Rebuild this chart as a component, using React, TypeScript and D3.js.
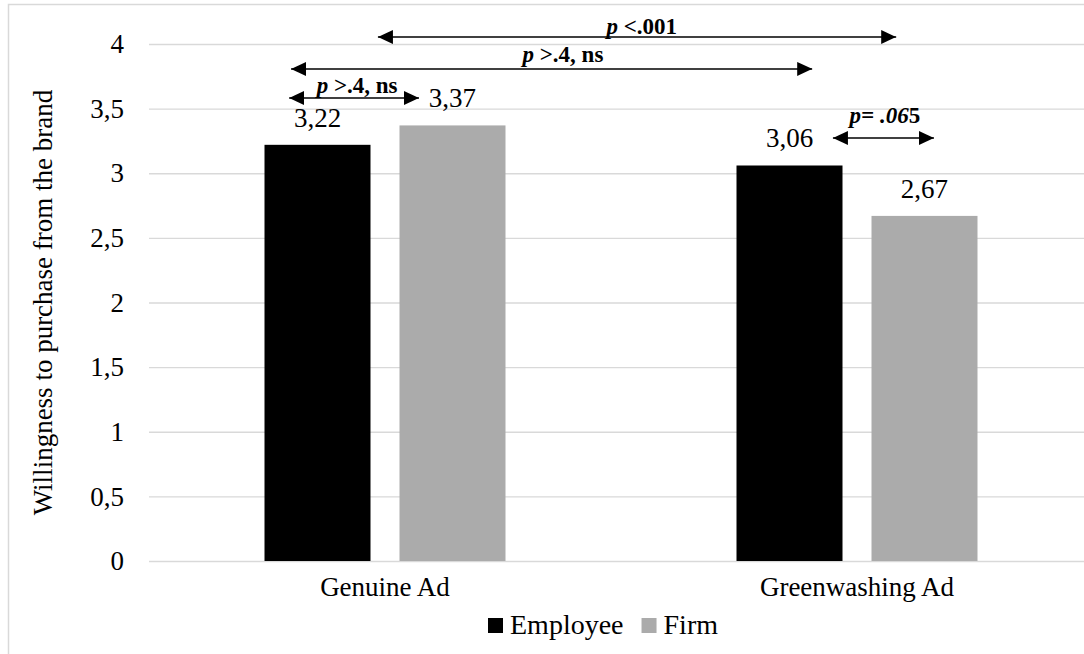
import React, { useRef, useEffect } from "react";
import * as d3 from "d3";

const categories = ["Genuine Ad", "Greenwashing Ad"];
const seriesNames = ["Employee", "Firm"];
const employeeValues = [3.22, 3.06];
const firmValues = [3.37, 2.67];
const seriesColors = ["#000000", "#ababab"];
const yTickValues = [0, 0.5, 1, 1.5, 2, 2.5, 3, 3.5, 4];
const yAxisTitle = "Willingness to purchase from the brand";

// significance arrows: x in category units (0 = left edge of plot), y in axis units
const annItalic = ["p", "p", "p", "p= .06"];
const annPlain = [" <.001", " >.4, ns", " >.4, ns", "5"];
const annFrom = [0.485, 0.301, 0.297, 1.449];
const annTo = [1.583, 1.405, 0.572, 1.663];
const annLevel = [4.054, 3.807, 3.582, 3.273];
const annTextLevel = [4.077, 3.861, 3.621, 3.389];
const annTextAt = [1.044, 0.877, 0.441, 1.559];

const width = 1084;
const height = 654;
const plot = { left: 149, right: 1093, top: 44, bottom: 561 };
const font = "Liberation Serif, Tinos, DejaVu Serif, Times New Roman, serif";

const commaFormat = d3.formatLocale({
  decimal: ",",
  thousands: ".",
  grouping: [3],
  currency: ["", ""],
});

const App = () => {
  const svgRef = useRef<SVGSVGElement>(null);

  useEffect(() => {
    const svg = d3.select(svgRef.current);
    svg.selectAll("*").remove();

    const y = d3.scaleLinear().domain([0, 4]).range([plot.bottom, plot.top]);
    const x0 = d3.scaleBand().domain(categories).range([plot.left, plot.right]);
    const groupWidth = 241;
    const x1 = d3
      .scaleBand()
      .domain(seriesNames)
      .range([0, groupWidth])
      .paddingInner(0.2148);
    const xPos = d3.scaleLinear().domain([0, 2]).range([plot.left, plot.right]);

    // outer frame
    svg
      .append("rect")
      .attr("x", 8.5)
      .attr("y", 4.5)
      .attr("width", 1200)
      .attr("height", 800)
      .attr("fill", "none")
      .attr("stroke", "#d9d9d9")
      .attr("stroke-width", 1.5);

    // gridlines + y tick labels
    const yAxis = d3
      .axisLeft(y)
      .tickValues(yTickValues)
      .tickSize(-(plot.right - plot.left))
      .tickPadding(25)
      .tickFormat((d) => commaFormat.format("~g")(d as number));

    const yAxisGroup = svg
      .append("g")
      .attr("transform", `translate(${plot.left},0)`)
      .call(yAxis);
    yAxisGroup.select(".domain").remove();
    yAxisGroup
      .selectAll(".tick line")
      .attr("stroke", "#d9d9d9")
      .attr("stroke-width", 1.3);
    yAxisGroup
      .selectAll(".tick text")
      .style("font-family", font)
      .attr("font-size", 27)
      .attr("fill", "#000");
    yAxisGroup.attr("font-family", null).attr("font-size", null);

    // bars
    const rows = categories.map((c, i) => ({
      category: c,
      values: [employeeValues[i], firmValues[i]],
    }));

    const groups = svg
      .selectAll("g.cat")
      .data(rows)
      .join("g")
      .attr("class", "cat")
      .attr(
        "transform",
        (d) =>
          `translate(${(x0(d.category) as number) + (x0.bandwidth() - groupWidth) / 2},0)`
      );

    groups
      .selectAll("rect")
      .data((d) => d.values.map((v, j) => ({ name: seriesNames[j], value: v, j })))
      .join("rect")
      .attr("x", (d) => x1(d.name) as number)
      .attr("y", (d) => y(d.value))
      .attr("width", x1.bandwidth())
      .attr("height", (d) => y(0) - y(d.value))
      .attr("fill", (d) => seriesColors[d.j]);

    groups
      .selectAll("text.val")
      .data((d) => d.values.map((v, j) => ({ name: seriesNames[j], value: v })))
      .join("text")
      .attr("class", "val")
      .attr("x", (d) => (x1(d.name) as number) + x1.bandwidth() / 2)
      .attr("y", (d) => y(d.value) - 18)
      .attr("text-anchor", "middle")
      .style("font-family", font)
      .attr("font-size", 27)
      .text((d) => commaFormat.format(".2f")(d.value));

    // category labels
    svg
      .selectAll("text.cat-label")
      .data(categories)
      .join("text")
      .attr("class", "cat-label")
      .attr("x", (d) => (x0(d) as number) + x0.bandwidth() / 2)
      .attr("y", 596)
      .attr("text-anchor", "middle")
      .style("font-family", font)
      .attr("font-size", 27)
      .text((d) => d);

    // y axis title
    svg
      .append("text")
      .attr("transform", `translate(52,${(plot.top + plot.bottom) / 2}) rotate(-90)`)
      .attr("text-anchor", "middle")
      .style("font-family", font)
      .attr("font-size", 27)
      .text(yAxisTitle);

    // arrow markers
    const defs = svg.append("defs");
    defs
      .append("marker")
      .attr("id", "head")
      .attr("markerUnits", "userSpaceOnUse")
      .attr("markerWidth", 15)
      .attr("markerHeight", 15)
      .attr("refX", 15)
      .attr("refY", 7)
      .attr("orient", "auto-start-reverse")
      .append("path")
      .attr("d", "M0,0 L15,7 L0,14 Z")
      .attr("fill", "#000");

    const anns = annFrom.map((f, i) => ({
      from: f,
      to: annTo[i],
      level: annLevel[i],
      textLevel: annTextLevel[i],
      textAt: annTextAt[i],
      italic: annItalic[i],
      plain: annPlain[i],
    }));

    svg
      .selectAll("line.ann")
      .data(anns)
      .join("line")
      .attr("class", "ann")
      .attr("x1", (d) => xPos(d.from))
      .attr("x2", (d) => xPos(d.to))
      .attr("y1", (d) => y(d.level))
      .attr("y2", (d) => y(d.level))
      .attr("stroke", "#000")
      .attr("stroke-width", 1.6)
      .attr("marker-start", "url(#head)")
      .attr("marker-end", "url(#head)");

    const annText = svg
      .selectAll("text.ann")
      .data(anns)
      .join("text")
      .attr("class", "ann")
      .attr("x", (d) => xPos(d.textAt))
      .attr("y", (d) => y(d.textLevel))
      .attr("text-anchor", "middle")
      .style("font-family", font)
      .attr("font-size", 23)
      .attr("font-weight", "bold");
    annText
      .append("tspan")
      .attr("font-style", "italic")
      .text((d) => d.italic);
    annText
      .append("tspan")
      .style("white-space", "pre")
      .text((d) => d.plain);

    // legend
    const legend = svg.append("g").attr("transform", "translate(488,0)");
    let lx = 0;
    seriesNames.forEach((name, i) => {
      legend
        .append("rect")
        .attr("x", lx)
        .attr("y", 618)
        .attr("width", 15)
        .attr("height", 15)
        .attr("fill", seriesColors[i]);
      const t = legend
        .append("text")
        .attr("x", lx + 22)
        .attr("y", 634)
        .style("font-family", font)
        .attr("font-size", 28)
        .text(name);
      const w = (t.node() as SVGTextElement).getComputedTextLength();
      lx += 22 + w + 18;
    });

    return () => undefined;
  }, []);

  return (
    <svg
      ref={svgRef}
      width={width}
      height={height}
      style={{ position: "absolute", left: 0, top: 0, background: "#fff" }}
    />
  );
};

export default App;
